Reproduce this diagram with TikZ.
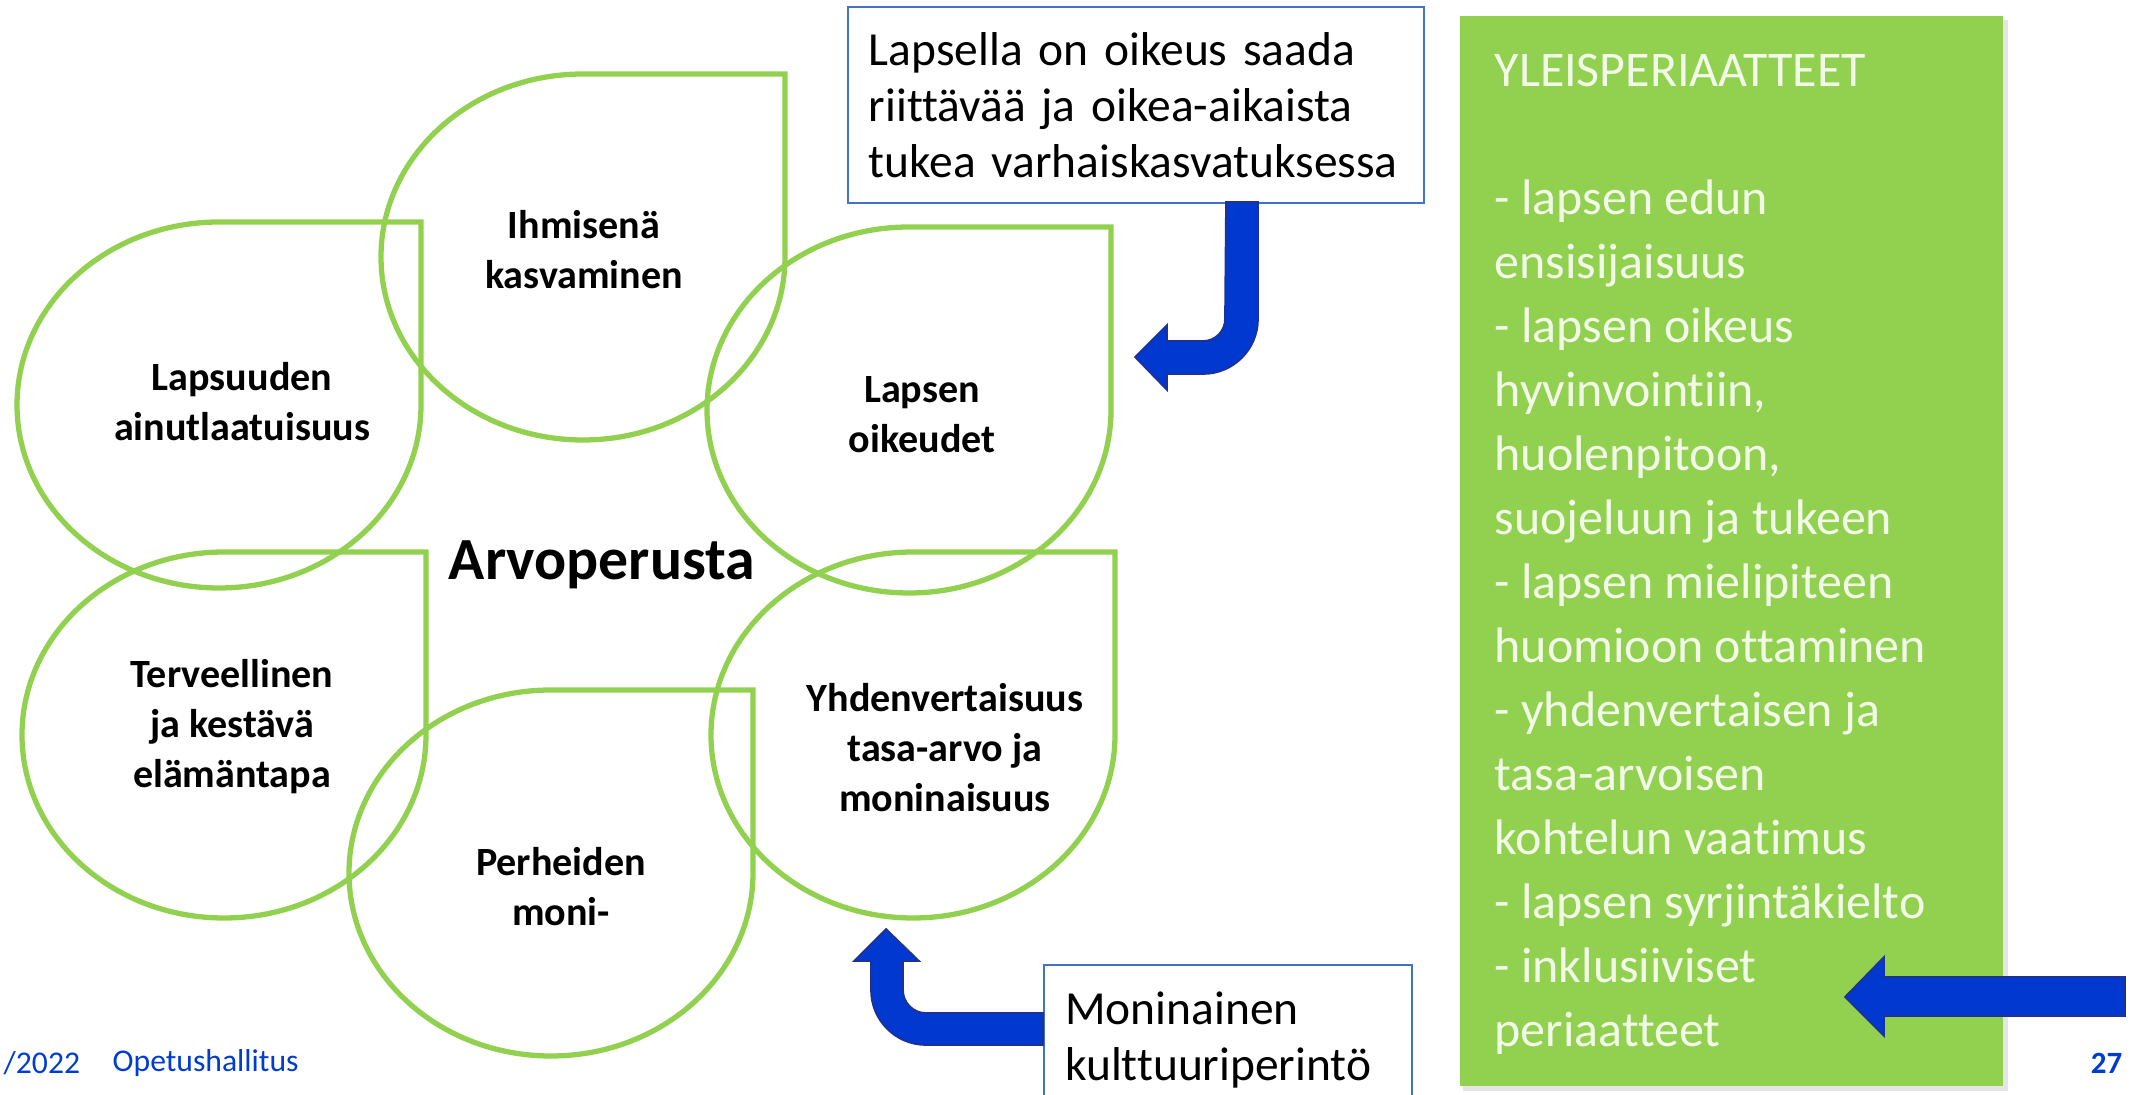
\documentclass[tikz,border=0pt]{standalone}
\usepackage{fontspec}
\setmainfont{Carlito}[Ligatures=NoCommon]
\usetikzlibrary{positioning}

\definecolor{dropgreen}{RGB}{146,208,80}
\definecolor{boxgreen}{RGB}{146,208,80}
\definecolor{calloutblue}{RGB}{68,114,196}
\definecolor{arrowblue}{RGB}{0,56,208}
\definecolor{arrowedge}{RGB}{30,50,150}
\definecolor{footblue}{RGB}{0,60,210}
\definecolor{paletext}{RGB}{242,250,232}

\tikzset{
  drop/.style={draw=dropgreen, line width=1.5pt},
  vlabel/.style={font=\bfseries\fontsize{11.4}{14.2}\selectfont, align=center},
  callout/.style={draw=calloutblue, line width=0.6pt, fill=white, align=left,
    inner xsep=6pt, font=\fontsize{13.5}{15.9}\selectfont},
  blockarrow/.style={fill=arrowblue, draw=arrowedge, line width=0.5pt},
  foot/.style={text=footblue, font=\fontsize{9}{10}\selectfont, inner sep=0pt}
}

\begin{document}
\begin{tikzpicture}[x=0.01cm, y=-0.01cm]
		\useasboundingbox (0,0) rectangle (2136,1095);
		\clip (0,0) rectangle (2136,1095);

		% teardrops
		\foreach \cx/\cy in {583/257, 219/405, 909/410, 224/735, 551/873, 913/735}
		    \draw[drop] (\cx,\cy-183) -- (\cx+202,\cy-183) -- (\cx+202,\cy)
		        arc[start angle=0, end angle=270, x radius=202, y radius=183] -- cycle;

		\node[vlabel] (ihminen) at (584,250) {Ihmisenä\\kasvaminen};
		\node[vlabel] (lapsuus) at (242,402) {Lapsuuden\\ainutlaatuisuus};
		\node[vlabel] (oikeudet) at (922,415) {Lapsen\\oikeudet};
		\node[vlabel] (terveys) at (232,727) {Terveellinen\\ja kestävä\\elämäntapa};
		\node[vlabel] (perheet) at (561,887) {Perheiden\\moni-};
		\node[vlabel] (yhdenv) at (945,748) {Yhdenvertaisuus\\tasa-arvo ja\\moninaisuus};
		\node[font=\bfseries\fontsize{17}{20}\selectfont] (arvo) at (602,565) {Arvoperusta};

		% callouts
		\node[callout, text width=152pt, minimum height=55.5pt] (tuki) at (1136,105)
		    {Lapsella on oikeus saada\\riittävää ja oikea-aikaista\\tukea varhaiskasvatuksessa};
		\node[callout, anchor=north west, text width=92.5pt, minimum height=42.7pt] (kult) at (1043,964)
		    {Moninainen\\kulttuuriperintö};

		% block arrows
		\filldraw[blockarrow] (1226,202) -- (1225,319) arc[start angle=0, end angle=90, radius=22]
		    -- (1167,341) -- (1167,325) -- (1135,357) -- (1167,390) -- (1167,374) -- (1203,374)
		    arc[start angle=90, end angle=0, radius=55] -- (1258,202) -- cycle;
		\filldraw[blockarrow] (1043,1013) -- (926,1013) arc[start angle=90, end angle=180, radius=23]
		    -- (903,961) -- (919,961) -- (886,929) -- (854,961) -- (871,961) -- (871,990)
		    arc[start angle=180, end angle=90, radius=55] -- (1043,1045) -- cycle;

		% principles box
		\fill[black!10] (1463,20) rectangle (2008,1091);
		\fill[boxgreen] (1460,16) rectangle (2003,1086);
		\node[anchor=north west, inner sep=0pt, align=left, text=paletext,
		    font=\fontsize{14.2}{18.2}\selectfont] (periaatteet) at (1494,53)
		    {YLEISPERIAATTEET\\[18.2pt]
		    - lapsen edun\\ensisijaisuus\\- lapsen oikeus\\hyvinvointiin,\\huolenpitoon,\\
		    suojeluun ja tukeen\\- lapsen mielipiteen\\huomioon ottaminen\\
		    - yhdenvertaisen ja\\tasa-arvoisen\\kohtelun vaatimus\\
		    - lapsen syrjintäkielto\\- inklusiiviset\\periaatteet};
		\filldraw[blockarrow] (2125,977) -- (1884,977) -- (1884,957) -- (1845,997)
		    -- (1884,1036) -- (1884,1016) -- (2125,1016) -- cycle;

		% footer
		\node[foot, anchor=west] (pvm) at (3,1063) {/2022};
		\node[foot, anchor=west] (oph) at (112,1063) {Opetushallitus};
		\node[foot, anchor=east, font=\bfseries\fontsize{8.8}{10}\selectfont] (sivu) at (2123,1063) {27};
\end{tikzpicture}
\end{document}
